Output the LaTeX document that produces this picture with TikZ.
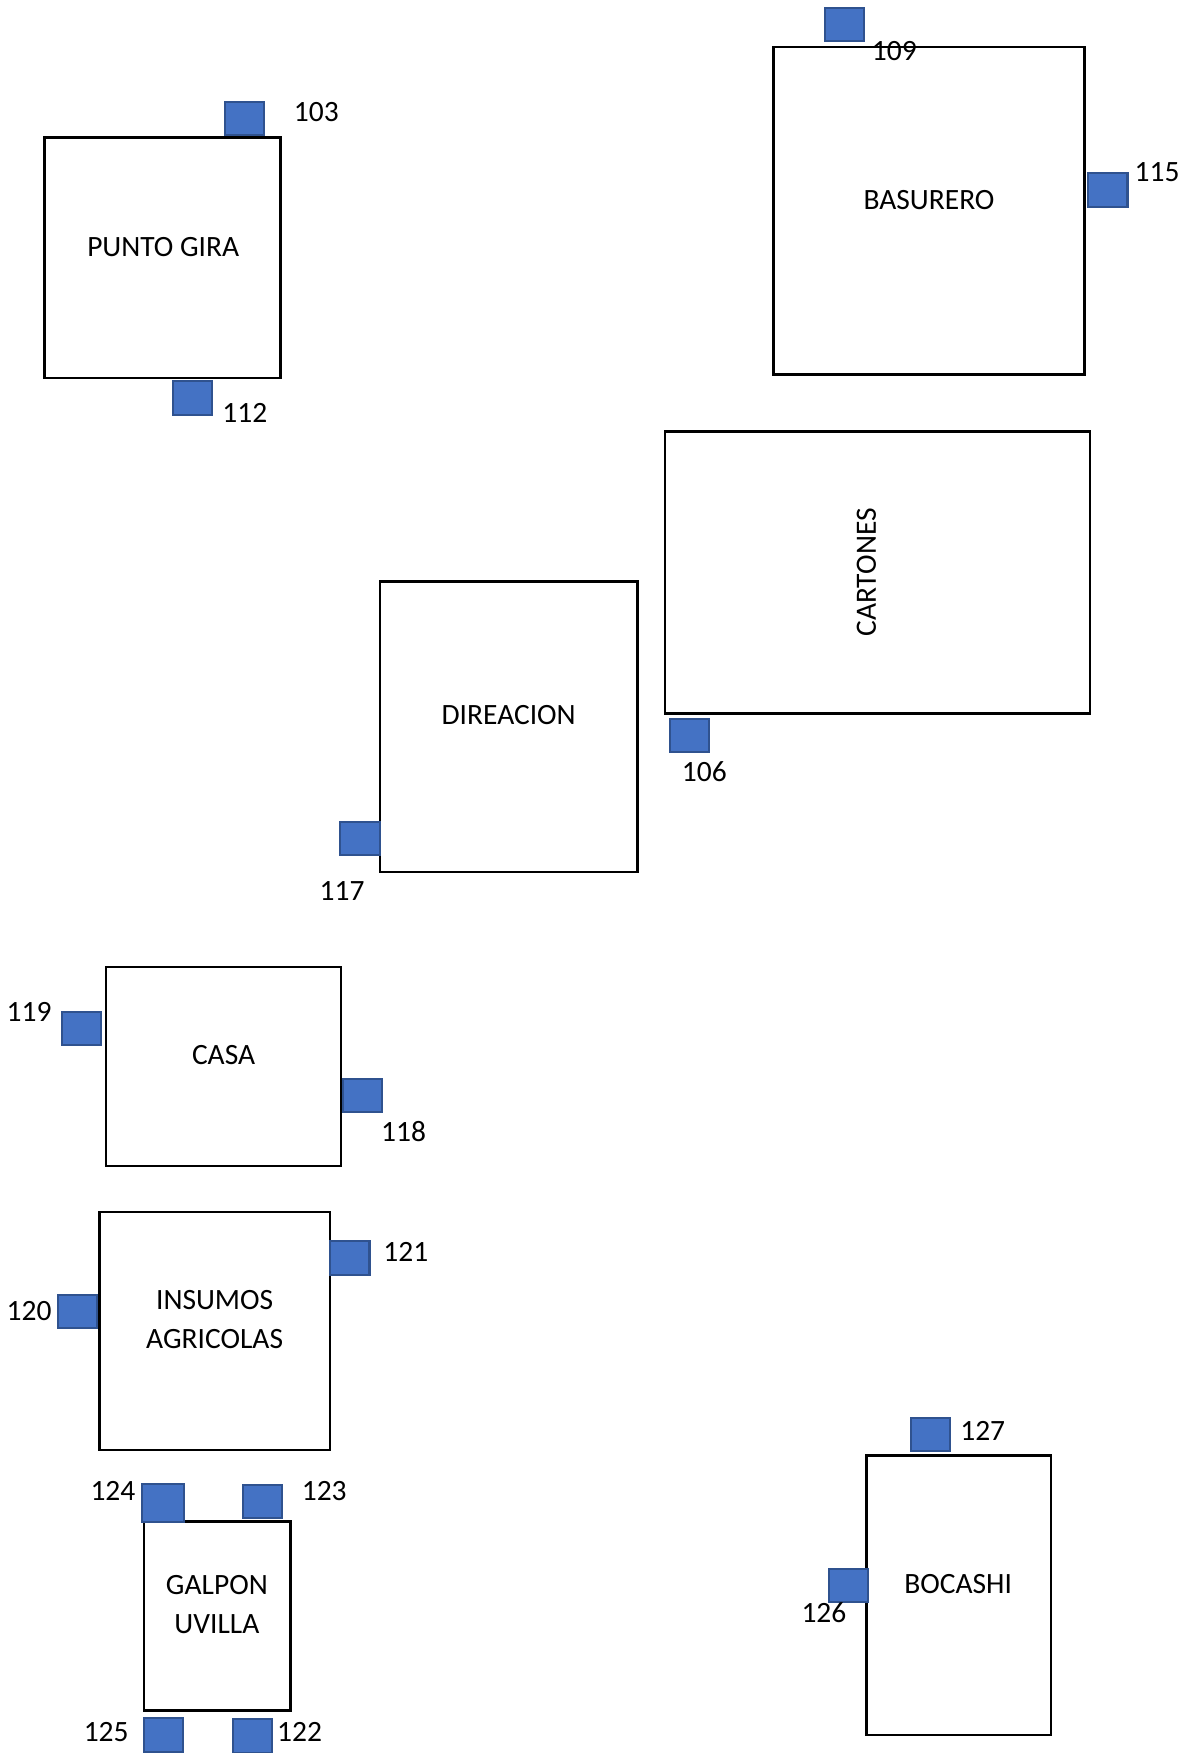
\documentclass[tikz,border=0pt]{standalone}
\usepackage{fontspec}
\setmainfont{Carlito}
\usepackage{xcolor}
\usetikzlibrary{positioning}
\definecolor{ptblue}{HTML}{4472C4}
\definecolor{ptedge}{HTML}{2F528F}

\begin{document}
\begin{tikzpicture}[x=0.44pt, y=-0.44pt,
    bldg/.style 2 args={draw, line width=1pt, minimum width=#1*0.44pt, minimum height=#2*0.44pt, inner sep=0pt},
    pnt/.style={draw=ptedge, fill=ptblue, line width=0.8pt, minimum width=35*0.44pt, minimum height=30*0.44pt, inner sep=0pt},
    txt/.style={align=center, inner sep=0pt, font=\fontsize{11.6}{15.4}\selectfont},
    num/.style={inner sep=0pt, font=\fontsize{11.6}{13}\selectfont}]
      \useasboundingbox (0,0) rectangle (1059,1568);
      % buildings %
      \node[bldg={211}{215}] (pgira) at (145.5,230.5) {};
      \node[bldg={278}{293}] (basur) at (831,188.5) {};
      \node[bldg={380}{252}] (carton) at (785,512) {};
      \node[bldg={230}{260}] (direc) at (455,650) {};
      \node[bldg={210}{178}] (casa) at (200,954) {};
      \node[bldg={206}{213}] (insum) at (192,1190.5) {};
      \node[bldg={131}{169}] (galpon) at (194.5,1445.5) {};
      \node[bldg={165}{250}] (bocas) at (857.5,1427) {};
      % names %
      \node[txt] (pgira-t) at (146,221) {PUNTO GIRA};
      \node[txt] (basur-t) at (831,179) {BASURERO};
      \node[txt, rotate=90] (carton-t) at (775,512) {CARTONES};
      \node[txt] (direc-t) at (455,640) {DIREACION};
      \node[txt] (casa-t) at (200,944) {CASA};
      \node[txt] (insum-t) at (192,1180.5) {INSUMOS\\AGRICOLAS};
      \node[txt] (galpon-t) at (194,1435.5) {GALPON\\UVILLA};
      \node[txt] (bocas-t) at (857,1417) {BOCASHI};
      % points %
      \node[pnt] (p103) at (219,106) {};
      \node[pnt] (p112) at (172,356) {};
      \node[pnt] (p109) at (755,22) {};
      \node[pnt] (p115) at (991,170) {};
      \node[pnt] (p106) at (617,658) {};
      \node[pnt] (p117) at (322,750) {};
      \node[pnt] (p119) at (73,920) {};
      \node[pnt] (p118) at (324,980) {};
      \node[pnt] (p120) at (69,1173) {};
      \node[pnt] (p121) at (313,1125) {};
      \node[pnt, minimum width=38*0.44pt, minimum height=34*0.44pt] (p124) at (146,1344) {};
      \node[pnt] (p123) at (235,1343) {};
      \node[pnt] (p125) at (146,1552) {};
      \node[pnt] (p122) at (226,1553) {};
      \node[pnt] (p127) at (832,1283) {};
      \node[pnt] (p126) at (759,1418) {};
      % numbers %
      \node[num] (l103) at (283,100) {103};
      \node[num] (l112) at (219,369) {112};
      \node[num] (l109) at (800,46) {109};
      \node[num] (l115) at (1035,154) {115};
      \node[num] (l106) at (630,690) {106};
      \node[num] (l117) at (306,797) {117};
      \node[num] (l119) at (26,905) {119};
      \node[num] (l118) at (361,1012) {118};
      \node[num] (l120) at (26,1173) {120};
      \node[num] (l121) at (363,1120) {121};
      \node[num] (l124) at (101,1334) {124};
      \node[num] (l123) at (290,1334) {123};
      \node[num] (l125) at (95,1549) {125};
      \node[num] (l122) at (268,1549) {122};
      \node[num] (l127) at (879,1280) {127};
      \node[num] (l126) at (737,1442) {126};
    \end{tikzpicture}
\end{document}
